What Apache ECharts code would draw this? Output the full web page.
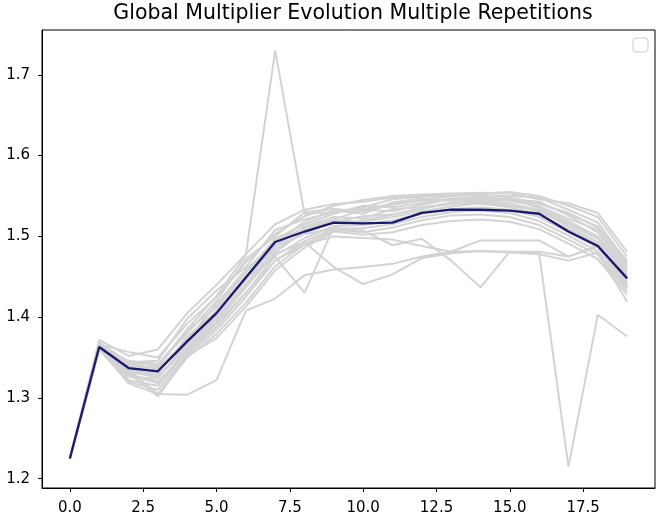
<!DOCTYPE html>
<html>
<head>
<meta charset="utf-8">
<script src="https://cdn.jsdelivr.net/npm/echarts@6/dist/echarts.min.js"></script>
<style>
  html, body { margin: 0; padding: 0; background: #fff; }
  #chart { width: 657px; height: 519px; }
</style>
</head>
<body>
<div id="chart"></div>
<script>
// Generation index (x) for every run
const steps = [0,1,2,3,4,5,6,7,8,9,10,11,12,13,14,15,16,17,18,19];

// Global multiplier per generation, one array per repetition
const run01 = [1.225,1.372,1.352,1.360,1.405,1.440,1.478,1.515,1.533,1.540,1.543,1.548,1.550,1.551,1.553,1.555,1.550,1.538,1.524,1.475];
const run02 = [1.225,1.366,1.357,1.350,1.392,1.425,1.468,1.503,1.525,1.538,1.545,1.550,1.552,1.553,1.554,1.553,1.546,1.541,1.529,1.481];
const run03 = [1.225,1.369,1.344,1.346,1.398,1.433,1.462,1.508,1.521,1.530,1.536,1.546,1.549,1.551,1.551,1.550,1.548,1.533,1.517,1.468];
const run04 = [1.225,1.364,1.346,1.342,1.380,1.420,1.472,1.500,1.530,1.534,1.531,1.539,1.545,1.550,1.552,1.548,1.541,1.529,1.511,1.470];
const run05 = [1.225,1.367,1.339,1.338,1.384,1.412,1.455,1.497,1.515,1.528,1.538,1.536,1.541,1.547,1.549,1.546,1.543,1.526,1.505,1.458];
const run06 = [1.225,1.362,1.342,1.336,1.372,1.416,1.459,1.492,1.518,1.532,1.528,1.542,1.547,1.544,1.546,1.544,1.537,1.522,1.508,1.462];
const run07 = [1.225,1.365,1.333,1.330,1.376,1.408,1.450,1.495,1.510,1.521,1.533,1.531,1.539,1.546,1.543,1.547,1.535,1.519,1.500,1.455];
const run08 = [1.225,1.361,1.336,1.327,1.365,1.402,1.446,1.488,1.512,1.524,1.522,1.534,1.536,1.541,1.544,1.541,1.530,1.515,1.497,1.451];
const run09 = [1.225,1.363,1.326,1.324,1.368,1.398,1.441,1.484,1.504,1.518,1.525,1.527,1.534,1.542,1.540,1.538,1.532,1.512,1.493,1.447];
const run10 = [1.225,1.360,1.329,1.318,1.360,1.394,1.437,1.480,1.507,1.520,1.518,1.524,1.531,1.537,1.541,1.536,1.527,1.509,1.490,1.443];
const run11 = [1.225,1.362,1.322,1.315,1.356,1.388,1.430,1.476,1.498,1.513,1.514,1.520,1.528,1.534,1.536,1.533,1.524,1.505,1.486,1.440];
const run12 = [1.225,1.360,1.320,1.310,1.353,1.384,1.425,1.470,1.494,1.510,1.510,1.515,1.524,1.530,1.532,1.529,1.519,1.501,1.481,1.436];
const run13 = [1.225,1.361,1.318,1.305,1.350,1.379,1.418,1.463,1.490,1.508,1.505,1.511,1.520,1.526,1.527,1.524,1.514,1.496,1.477,1.432];
const run14 = [1.225,1.359,1.331,1.302,1.352,1.374,1.413,1.458,1.486,1.506,1.502,1.505,1.514,1.519,1.521,1.518,1.509,1.491,1.472,1.428];
const run15 = [1.225,1.366,1.344,1.340,1.385,1.426,1.477,1.730,1.528,1.530,1.534,1.540,1.544,1.546,1.547,1.546,1.540,1.528,1.512,1.465];
const run16 = [1.225,1.362,1.335,1.305,1.304,1.322,1.408,1.423,1.452,1.459,1.462,1.466,1.475,1.481,1.482,1.481,1.479,1.215,1.403,1.376];
const run17 = [1.225,1.363,1.338,1.333,1.372,1.408,1.448,1.475,1.430,1.512,1.520,1.527,1.535,1.540,1.542,1.540,1.533,1.516,1.498,1.451];
const run18 = [1.225,1.362,1.332,1.326,1.362,1.398,1.440,1.478,1.493,1.462,1.441,1.453,1.473,1.479,1.482,1.480,1.478,1.470,1.480,1.419];
const run19 = [1.225,1.364,1.339,1.334,1.368,1.404,1.447,1.488,1.503,1.510,1.507,1.489,1.497,1.470,1.437,1.481,1.481,1.475,1.487,1.440];
const run20 = [1.225,1.361,1.329,1.320,1.357,1.392,1.430,1.470,1.490,1.500,1.498,1.496,1.488,1.481,1.495,1.495,1.495,1.475,1.489,1.438];

// Average over the repetitions
const meanRun = [1.225,1.363,1.337,1.333,1.370,1.405,1.449,1.493,1.506,1.517,1.516,1.517,1.529,1.533,1.533,1.532,1.528,1.506,1.488,1.448];

// Tick labels
const xTicks = [0, 2.5, 5, 7.5, 10, 12.5, 15, 17.5];
const yTicks = [1.2, 1.3, 1.4, 1.5, 1.6, 1.7];

const runs = [run01,run02,run03,run04,run05,run06,run07,run08,run09,run10,
              run11,run12,run13,run14,run15,run16,run17,run18,run19,run20];

const toPoints = vals => steps.map((s, i) => [s, vals[i]]);

const series = runs.map((r, i) => ({
  name: 'run ' + (i + 1),
  type: 'line',
  data: toPoints(r),
  showSymbol: false,
  symbol: 'none',
  lineStyle: { color: '#d3d3d3', width: 2 },
  z: 2
}));
series.push({
  name: 'mean',
  type: 'line',
  data: toPoints(meanRun),
  showSymbol: false,
  symbol: 'none',
  lineStyle: { color: '#191970', width: 2.3 },
  z: 3
});

const font = 'DejaVu Sans';
const chart = echarts.init(document.getElementById('chart'));
chart.setOption({
  animation: false,
  backgroundColor: '#fff',
  title: {
    text: 'Global Multiplier Evolution Multiple Repetitions',
    left: 348, top: -2, textAlign: 'center',
    textStyle: { fontFamily: font, fontSize: 20.5, fontWeight: 'normal', color: '#000' }
  },
  grid: {
    left: 42, right: 2, top: 30, bottom: 31,
    show: true, borderColor: '#000', borderWidth: 1, backgroundColor: '#fff'
  },
  xAxis: {
    type: 'value', min: -0.95, max: 19.95,
    axisLine: { show: true, onZero: false, lineStyle: { color: '#000', width: 1 } },
    axisTick: { show: true, length: 4, customValues: xTicks, lineStyle: { color: '#000' } },
    axisLabel: {
      customValues: xTicks, margin: 13,
      formatter: v => Number(v).toFixed(1),
      fontFamily: font, fontSize: 15, color: '#000'
    },
    splitLine: { show: false }
  },
  yAxis: {
    type: 'value', min: 1.1885, max: 1.7555,
    axisLine: { show: true, onZero: false, lineStyle: { color: '#000', width: 1 } },
    axisTick: { show: true, length: 4, customValues: yTicks, lineStyle: { color: '#000' } },
    axisLabel: {
      customValues: yTicks, margin: 12,
      formatter: v => Number(v).toFixed(1),
      fontFamily: font, fontSize: 15, color: '#000'
    },
    splitLine: { show: false }
  },
  graphic: [{
    type: 'rect',
    shape: { x: 633, y: 38, width: 15, height: 14, r: 3 },
    style: { fill: '#fff', stroke: '#cccccc', lineWidth: 1 },
    z: 10
  }],
  series: series
});
</script>
</body>
</html>
